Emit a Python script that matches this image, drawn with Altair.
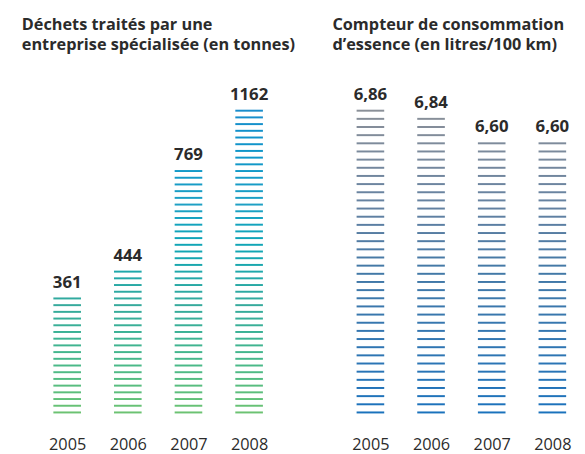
import altair as alt
import pandas as pd

# ---- data ----
years = ["2005", "2006", "2007", "2008"]
dechets = [361, 444, 769, 1162]
dechets_labels = ["361", "444", "769", "1162"]
dechets_lines = [18, 22, 37, 46]          # number of dashes drawn in each column

conso = [6.86, 6.84, 6.60, 6.60]
conso_labels = ["6,86", "6,84", "6,60", "6,60"]
conso_lines = [38, 37, 34, 34]

title_left = ["Déchets traités par une", "entreprise spécialisée (en tonnes)"]
title_right = ["Compteur de consommation", "d’essence (en litres/100 km)"]

FONT = "Open Sans"
TXT = "#2b2b2b"

# ---- tables ----
domain = ["L" + y for y in years] + ["gap"] + ["R" + y for y in years]

rowsL, rowsR, labL, labR = [], [], [], []
for y, n, v, t in zip(years, dechets_lines, dechets, dechets_labels):
    for i in range(n):
        rowsL.append({"cat": "L" + y, "i": i})
    labL.append({"cat": "L" + y, "top": n - 1, "value": v, "label": t})
for y, n, v, t in zip(years, conso_lines, conso, conso_labels):
    for i in range(n):
        rowsR.append({"cat": "R" + y, "i": i})
    labR.append({"cat": "R" + y, "top": n - 1, "value": v, "label": t})

dfL, dfR = pd.DataFrame(rowsL), pd.DataFrame(rowsR)
dlL, dlR = pd.DataFrame(labL), pd.DataFrame(labR)

x = alt.X(
    "cat:N",
    scale=alt.Scale(type="point", domain=domain, range=[60, 552], padding=0),
    axis=alt.Axis(
        title=None, domain=False, ticks=False, grid=False,
        labelExpr="datum.value == 'gap' ? '' : slice(datum.value, 1)",
        labelPadding=25, labelFontSize=16.5, labelColor=TXT, labelFont=FONT,
        labelAngle=0,
    ),
)

yL = alt.Scale(domain=[0, 45], nice=False, zero=False)
yR = alt.Scale(domain=[0, 37], nice=False, zero=False)

ticksL = alt.Chart(dfL).mark_tick(thickness=2, size=28, opacity=1).encode(
    x=x,
    y=alt.Y("i:Q", scale=yL, axis=None),
    color=alt.Color("i:Q", scale=alt.Scale(domain=[0, 16, 31, 45],
                    range=["#6cc272", "#36aa9c", "#1fa0c4", "#1a8dcc"]), legend=None),
)
textL = alt.Chart(dlL).mark_text(baseline="bottom", dy=-7, fontSize=17, fontWeight="bold",
                                 font=FONT, color=TXT).encode(
    x=x, y=alt.Y("top:Q", scale=yL, axis=None), text="label:N")

ticksR = alt.Chart(dfR).mark_tick(thickness=2, size=28, opacity=1).encode(
    x=x,
    y=alt.Y("i:Q", scale=yR, axis=None),
    color=alt.Color("i:Q", scale=alt.Scale(domain=[0, 18, 37],
                    range=["#1a72bc", "#4479a6", "#8a9098"]), legend=None),
)
textR = alt.Chart(dlR).mark_text(baseline="bottom", dy=-7, fontSize=17, fontWeight="bold",
                                 font=FONT, color=TXT).encode(
    x=x, y=alt.Y("top:Q", scale=yR, axis=None), text="label:N")

def title_layer(lines, px):
    layers = []
    for k, line in enumerate(lines):
        layers.append(
            alt.Chart(pd.DataFrame({"t": [line]})).mark_text(
                align="left", baseline="alphabetic", fontSize=16.5, fontWeight="bold",
                font=FONT, color=TXT,
            ).encode(x=alt.value(px), y=alt.value(-82 + 20 * k), text="t:N")
        )
    return layers

left = alt.layer(ticksL, textL)
right = alt.layer(ticksR, textR)

chart = alt.layer(
    left, right, *title_layer(title_left, 14), *title_layer(title_right, 329)
).resolve_scale(y="independent", color="independent").properties(
    width=577, height=306,
    autosize=alt.AutoSizeParams(type="none"),
    padding={"left": 0, "top": 101, "right": 0, "bottom": 39},
    background="white",
).configure_view(stroke=None)

chart.save("out.html", embed_options={"renderer": "svg", "actions": False})
